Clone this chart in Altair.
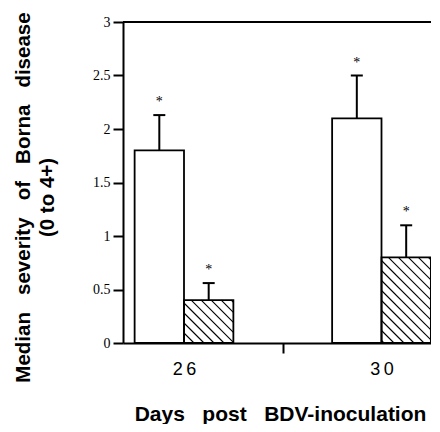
import altair as alt
import pandas as pd
import numpy as np

# ---- data ----
days = ["26", "30"]
series = ["open", "hatched"]
open_values = [1.8, 2.1]
open_errors = [0.33, 0.40]
hatched_values = [0.40, 0.80]
hatched_errors = [0.16, 0.30]
star_labels = ["*", "*", "*", "*"]
y_ticks = [0, 0.5, 1, 1.5, 2, 2.5, 3]

# ---- layout constants ----
W, H = 308, 321
SX = 197.5
XMIN = 1 - 61 / SX
XMAX = XMIN + W / SX
YMIN, YMAX = 0, 3
BAR_W = 0.25
SY = H / (YMAX - YMIN)

rows = []
k = 0
for i, d in enumerate(days):
    for s, vals, errs, off in [("open", open_values, open_errors, -BAR_W),
                               ("hatched", hatched_values, hatched_errors, 0.0)]:
        x0 = i + 1 + off
        rows.append(dict(day=d, series=s, x0=x0, x1=x0 + BAR_W, xc=x0 + BAR_W / 2,
                         value=vals[i], top=vals[i] + errs[i], star=star_labels[k]))
        k += 1
df = pd.DataFrame(rows)

# hatch segments ("\" direction) clipped to each hatched bar
SP = 10.0
hrows = []
for _, r in df[df.series == "hatched"].iterrows():
    px0 = (r.x0 - XMIN) * SX
    px1 = (r.x1 - XMIN) * SX
    pyt = H - r.value * SY
    pyb = H
    cmin = pyt - px1
    cmax = pyb - px0
    c = np.floor(cmin / SP) * SP
    while c <= cmax:
        xa = max(px0, pyt - c)
        xb = min(px1, pyb - c)
        if xb - xa > 0.5:
            hrows.append(dict(hx=XMIN + xa / SX, hx2=XMIN + xb / SX,
                              hy=(H - (xa + c)) / SY, hy2=(H - (xb + c)) / SY))
        c += SP
hdf = pd.DataFrame(hrows)

xscale = alt.Scale(domain=[XMIN, XMAX], nice=False, zero=False)
yscale = alt.Scale(domain=[YMIN, YMAX], nice=False)

lab_expr = ("datum.value === 1 ? '" + "\u2009".join(days[0]) + "' : "
            "datum.value === 2 ? '" + "\u2009".join(days[1]) + "' : ''")

NB = "\u00a0\u00a0\u00a0"
x_axis = alt.Axis(
    values=[1, 1.5, 2], labelExpr=lab_expr, labelFont="Liberation Sans",
    labelFontSize=18, labelPadding=7, tickSize=10, tickWidth=2,
    tickColor={"condition": {"test": "datum.value === 1.5", "value": "black"}, "value": "transparent"},
    domainWidth=2, domainColor="black", labelColor="black", grid=False,
    title="Days" + NB + "post" + NB + "BDV-inoculation",
    titleFont="Liberation Sans", titleFontWeight="bold", titleFontSize=21,
    titleBaseline="alphabetic", titleX=157, titleY=77, titleColor="black",
)
y_axis = alt.Axis(
    values=y_ticks, format="~g", labelFont="Liberation Serif", labelFontSize=14,
    labelPadding=3, tickSize=10, tickWidth=2, tickColor="black",
    domainWidth=2, domainColor="black", labelColor="black", grid=False,
    title=["Median" + NB + "severity" + NB + "of" + NB + "Borna" + NB + "disease", "(0 to 4+)"],
    titleFont="Liberation Sans", titleFontWeight="bold", titleFontSize=20.5,
    titleAngle=-90, titleBaseline="middle", titleAlign="center",
    titleX=-100, titleY=175, titleLineHeight=24, titleColor="black",
)

base = alt.Chart(df)

bars = base.mark_bar(fill="white", strokeWidth=0).encode(
    x=alt.X("x0:Q", scale=xscale, axis=x_axis),
    x2="x1:Q",
    y=alt.Y("value:Q", scale=yscale, axis=y_axis),
    y2=alt.datum(0),
)

hatch = alt.Chart(hdf).mark_rule(color="black", strokeWidth=1.1).encode(
    x=alt.X("hx:Q", scale=xscale, axis=x_axis), x2="hx2:Q",
    y=alt.Y("hy:Q", scale=yscale, axis=y_axis), y2="hy2:Q",
)

outline = base.mark_bar(fill="transparent", stroke="black", strokeWidth=1.8).encode(
    x=alt.X("x0:Q", scale=xscale, axis=x_axis), x2="x1:Q",
    y=alt.Y("value:Q", scale=yscale, axis=y_axis), y2=alt.datum(0),
)

stems = base.mark_rule(color="black", strokeWidth=2).encode(
    x=alt.X("xc:Q", scale=xscale, axis=x_axis),
    y=alt.Y("value:Q", scale=yscale, axis=y_axis), y2="top:Q",
)

caps = base.mark_tick(orient="horizontal", size=12, thickness=2, color="black", opacity=1).encode(
    x=alt.X("xc:Q", scale=xscale, axis=x_axis),
    y=alt.Y("top:Q", scale=yscale, axis=y_axis),
)

stars = base.mark_text(font="Liberation Serif", fontSize=14, baseline="alphabetic",
                       dy=-9, color="black", fill="black").encode(
    x=alt.X("xc:Q", scale=xscale, axis=x_axis),
    y=alt.Y("top:Q", scale=yscale, axis=y_axis),
    text="star:N",
)

topline = alt.Chart(pd.DataFrame({"t": [y_ticks[-1]]})).mark_rule(color="black", strokeWidth=2).encode(
    x=alt.datum(XMIN), x2=alt.datum(XMAX),
    y=alt.Y("t:Q", scale=yscale, axis=y_axis),
)

chart = alt.layer(bars, hatch, outline, stems, caps, stars, topline).properties(
    width=W, height=H,
    autosize=alt.AutoSizeParams(type="none"),
    padding={"left": 115, "top": 14, "right": 0, "bottom": 81},
).configure_view(stroke=None)

chart.save("out.html", embed_options={"renderer": "svg", "actions": False})
